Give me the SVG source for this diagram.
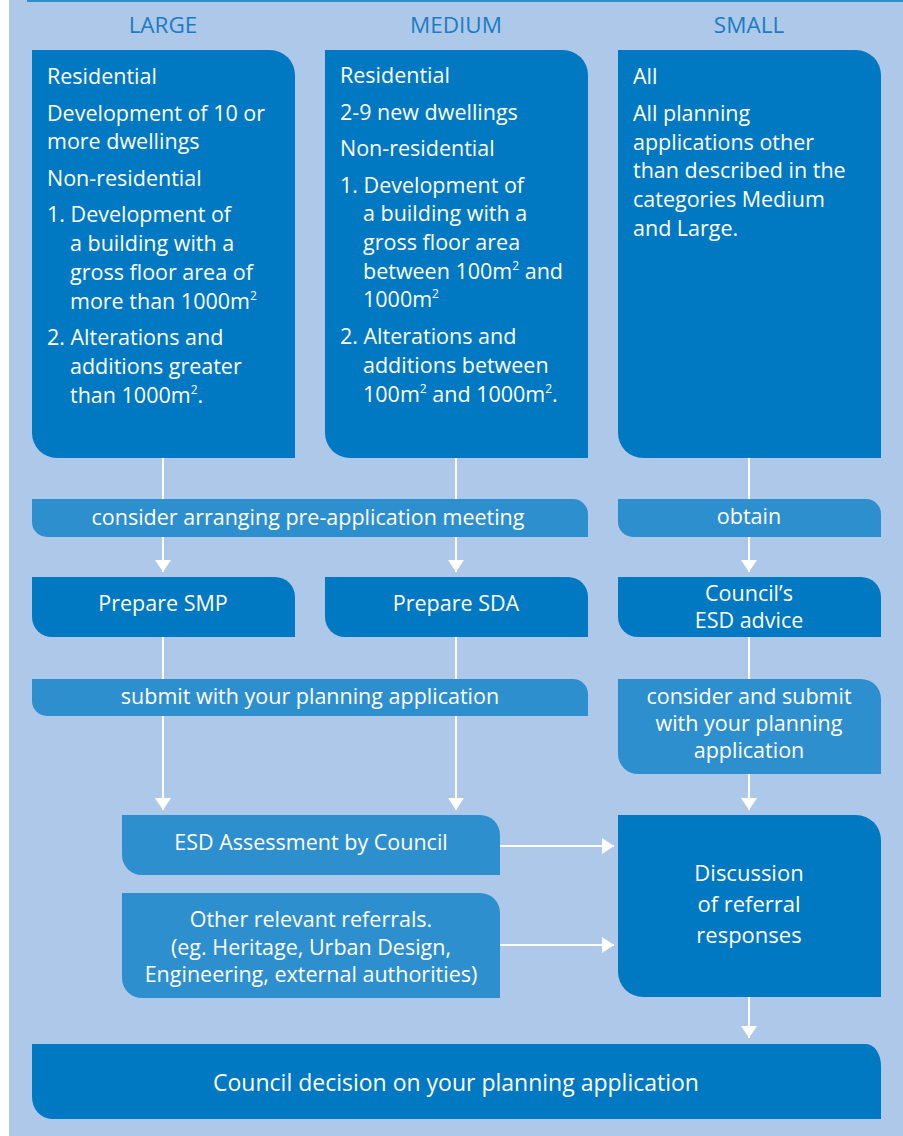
<svg xmlns="http://www.w3.org/2000/svg" width="903" height="1136" viewBox="0 0 903 1136">
<defs>
<style>
.bg{fill:#aec8e9}
.dk{fill:#0079c2}
.lt{fill:#2e8fcf}
.hd{font-family:"Open Sans","Noto Sans",sans-serif;font-size:22.5px;fill:#1a7dc4;text-anchor:middle}
.t{font-family:"Open Sans","Noto Sans",sans-serif;font-size:21.5px;fill:#ffffff}
.c{text-anchor:middle}
.big{font-size:22px}
.dec{font-size:23px}
.sup{font-size:12px}
.ln{stroke:#ffffff;stroke-width:2;fill:none}
</style>
<marker id="ah" viewBox="0 0 12 16" markerWidth="12" markerHeight="16" refX="12" refY="8" orient="auto" markerUnits="userSpaceOnUse">
<path d="M0,0 L12,8 L0,16 Z" fill="#ffffff"/>
</marker>
</defs>
<rect x="0" y="0" width="903" height="1136" fill="#ffffff"/>
<rect class="bg" x="9" y="0" width="894" height="1136"/>
<rect x="27" y="0" width="876" height="2" fill="#2e8fcf"/>

<g id="headers">
<text class="hd" x="163" y="33">LARGE</text>
<text class="hd" x="456" y="33">MEDIUM</text>
<text class="hd" x="749" y="33">SMALL</text>
</g>

<g id="connectors">
<line class="ln" x1="163" y1="458" x2="163" y2="499"/>
<line class="ln" x1="163" y1="537" x2="163" y2="572" marker-end="url(#ah)"/>
<line class="ln" x1="456" y1="458" x2="456" y2="499"/>
<line class="ln" x1="456" y1="537" x2="456" y2="572" marker-end="url(#ah)"/>
<line class="ln" x1="749" y1="458" x2="749" y2="499"/>
<line class="ln" x1="749" y1="537" x2="749" y2="572" marker-end="url(#ah)"/>
<line class="ln" x1="163" y1="637" x2="163" y2="810" marker-end="url(#ah)"/>
<line class="ln" x1="456" y1="637" x2="456" y2="810" marker-end="url(#ah)"/>
<line class="ln" x1="749" y1="637" x2="749" y2="679"/>
<line class="ln" x1="749" y1="774" x2="749" y2="810" marker-end="url(#ah)"/>
<line class="ln" x1="500" y1="846" x2="614" y2="846" marker-end="url(#ah)"/>
<line class="ln" x1="500" y1="945" x2="614" y2="945" marker-end="url(#ah)"/>
<line class="ln" x1="749" y1="997" x2="749" y2="1038" marker-end="url(#ah)"/>
</g>

<g id="large">
<path class="dk" d="M32,50 H270 A25,25 0 0 1 295,75 V458 H57 A25,25 0 0 1 32,433 Z"/>
<text class="t" x="47" y="84">Residential</text>
<text class="t" x="47" y="121">Development of 10 or</text>
<text class="t" x="47" y="149">more dwellings</text>
<text class="t" x="47" y="186">Non-residential</text>
<text class="t" x="47" y="222">1. Development of</text>
<text class="t" x="70" y="251">a building with a</text>
<text class="t" x="70" y="280">gross floor area of</text>
<text class="t" x="70" y="309">more than 1000m<tspan class="sup" dy="-9">2</tspan></text>
<text class="t" x="47" y="345">2. Alterations and</text>
<text class="t" x="70" y="374">additions greater</text>
<text class="t" x="70" y="403">than 1000m<tspan class="sup" dy="-9">2</tspan><tspan dy="9">.</tspan></text>
</g>

<g id="medium">
<path class="dk" d="M325,50 H563 A25,25 0 0 1 588,75 V458 H350 A25,25 0 0 1 325,433 Z"/>
<text class="t" x="340" y="83">Residential</text>
<text class="t" x="340" y="120">2-9 new dwellings</text>
<text class="t" x="340" y="156">Non-residential</text>
<text class="t" x="340" y="193">1. Development of</text>
<text class="t" x="363" y="221">a building with a</text>
<text class="t" x="363" y="250">gross floor area</text>
<text class="t" x="363" y="279">between 100m<tspan class="sup" dy="-9">2</tspan><tspan dy="9"> and</tspan></text>
<text class="t" x="363" y="307">1000m<tspan class="sup" dy="-9">2</tspan></text>
<text class="t" x="340" y="344">2. Alterations and</text>
<text class="t" x="363" y="373">additions between</text>
<text class="t" x="363" y="402">100m<tspan class="sup" dy="-9">2</tspan><tspan dy="9"> and 1000m</tspan><tspan class="sup" dy="-9">2</tspan><tspan dy="9">.</tspan></text>
</g>

<g id="small">
<path class="dk" d="M618,50 H856 A25,25 0 0 1 881,75 V458 H643 A25,25 0 0 1 618,433 Z"/>
<text class="t" x="633" y="84">All</text>
<text class="t" x="633" y="121">All planning</text>
<text class="t" x="633" y="150">applications other</text>
<text class="t" x="633" y="178">than described in the</text>
<text class="t" x="633" y="207">categories Medium</text>
<text class="t" x="633" y="236">and Large.</text>
</g>

<g id="preapp">
<path class="lt" d="M32,499 H573 A15,15 0 0 1 588,514 V537 H47 A15,15 0 0 1 32,522 Z"/>
<text class="t c" x="308" y="525">consider arranging pre-application meeting</text>
</g>

<g id="obtain">
<path class="lt" d="M618,499 H866 A15,15 0 0 1 881,514 V537 H633 A15,15 0 0 1 618,522 Z"/>
<text class="t c" x="749" y="524">obtain</text>
</g>

<g id="smp">
<path class="dk" d="M32,577 H275 A20,20 0 0 1 295,597 V637 H52 A20,20 0 0 1 32,617 Z"/>
<text class="t c" x="163" y="611">Prepare SMP</text>
</g>

<g id="sda">
<path class="dk" d="M325,577 H568 A20,20 0 0 1 588,597 V637 H345 A20,20 0 0 1 325,617 Z"/>
<text class="t c" x="456" y="611">Prepare SDA</text>
</g>

<g id="esdadvice">
<path class="dk" d="M618,577 H861 A20,20 0 0 1 881,597 V637 H638 A20,20 0 0 1 618,617 Z"/>
<text class="t c" x="749" y="601">Council’s</text>
<text class="t c" x="749" y="628">ESD advice</text>
</g>

<g id="submit">
<path class="lt" d="M32,679 H573 A15,15 0 0 1 588,694 V716 H47 A15,15 0 0 1 32,701 Z"/>
<text class="t c" x="310" y="704">submit with your planning application</text>
</g>

<g id="considersubmit">
<path class="lt" d="M618,679 H861 A20,20 0 0 1 881,699 V774 H638 A20,20 0 0 1 618,754 Z"/>
<text class="t c" x="749" y="704">consider and submit</text>
<text class="t c" x="749" y="731">with your planning</text>
<text class="t c" x="749" y="758">application</text>
</g>

<g id="esdassess">
<path class="lt" d="M122,815 H480 A20,20 0 0 1 500,835 V875 H142 A20,20 0 0 1 122,855 Z"/>
<text class="t c" x="311" y="850">ESD Assessment by Council</text>
</g>

<g id="referrals">
<path class="lt" d="M122,893 H480 A20,20 0 0 1 500,913 V998 H142 A20,20 0 0 1 122,978 Z"/>
<text class="t c" x="311" y="927">Other relevant referrals.</text>
<text class="t c" x="311" y="955">(eg. Heritage, Urban Design,</text>
<text class="t c" x="311" y="982">Engineering, external authorities)</text>
</g>

<g id="discussion">
<path class="dk" d="M618,815 H856 A25,25 0 0 1 881,840 V997 H643 A25,25 0 0 1 618,972 Z"/>
<text class="t c big" x="749" y="881">Discussion</text>
<text class="t c big" x="749" y="912">of referral</text>
<text class="t c big" x="749" y="943">responses</text>
</g>

<g id="decision">
<path class="dk" d="M32,1044 H866 A15,22 0 0 1 881,1066 V1119 H52 A20,22 0 0 1 32,1097 Z"/>
<text class="t c dec" x="456" y="1091">Council decision on your planning application</text>
</g>
</svg>
